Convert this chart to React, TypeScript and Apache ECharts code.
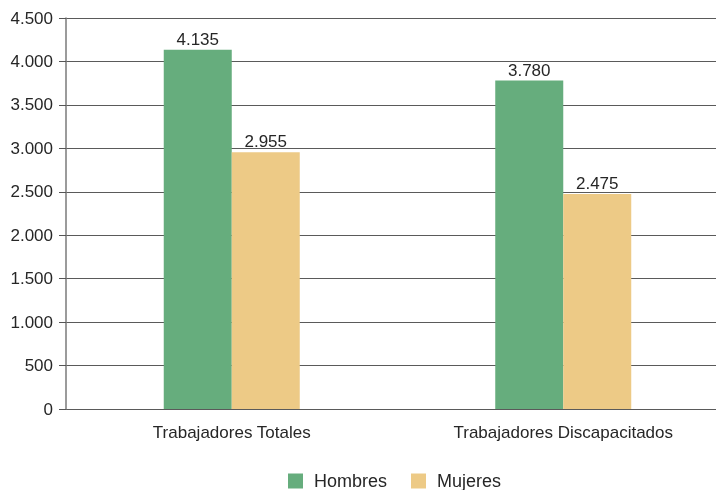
import React, { useEffect, useRef } from "react";
import * as echarts from "echarts";

const categories = ["Trabajadores Totales", "Trabajadores Discapacitados"];
const hombres = [4135, 3780];
const mujeres = [2955, 2475];
const seriesNames = ["Hombres", "Mujeres"];

const fmt = (v: number) => String(Math.round(v)).replace(/\B(?=(\d{3})+(?!\d))/g, ".");

const FONT = "'Liberation Sans', Arial, sans-serif";
const TEXT = "#262626";

export default function App() {
  const ref = useRef<HTMLDivElement>(null);
  useEffect(() => {
    if (!ref.current) return;
    const chart = echarts.init(ref.current, undefined, { renderer: "svg" });
    const label = {
      show: true,
      position: "top",
      distance: 2,
      color: TEXT,
      fontSize: 17,
      fontFamily: FONT,
      formatter: (p: any) => fmt(p.value),
    };
    chart.setOption({
      animation: false,
      textStyle: { fontFamily: FONT },
      // the plot runs a little past the visible frame on the right
      grid: { left: 66, right: 1, top: 18, bottom: 81, containLabel: false },
      legend: {
        data: seriesNames,
        bottom: 0,
        left: 288,
        padding: 0,
        itemWidth: 15,
        itemHeight: 15,
        itemGap: 24,
        icon: "rect",
        textStyle: { fontSize: 18, color: TEXT, fontFamily: FONT, padding: [0, 0, 0, 6] },
      },
      xAxis: {
        type: "category",
        data: categories,
        axisLine: { show: false },
        axisTick: { show: false },
        axisLabel: { fontSize: 17, color: TEXT, margin: 15, fontFamily: FONT },
      },
      yAxis: {
        type: "value",
        min: 0,
        max: 4500,
        interval: 500,
        axisLine: { show: true, lineStyle: { color: "#7a7a7a", width: 1.5 } },
        axisTick: { show: true, inside: false, length: 7, lineStyle: { color: "#555" } },
        axisLabel: {
          fontSize: 17,
          color: TEXT,
          margin: 13,
          fontFamily: FONT,
          formatter: (v: number) => fmt(v),
        },
        splitLine: { show: true, lineStyle: { color: "#5a5a5a", width: 1 } },
      },
      series: [
        {
          name: seriesNames[0],
          type: "bar",
          data: hombres,
          barWidth: 68,
          barGap: "0%",
          itemStyle: { color: "#66ad7d" },
          label,
        },
        {
          name: seriesNames[1],
          type: "bar",
          data: mujeres,
          barWidth: 68,
          barGap: "0%",
          itemStyle: { color: "#edca86" },
          label,
        },
      ],
    });
    return () => chart.dispose();
  }, []);
  return (
    <div
      style={{
        position: "fixed",
        left: 0,
        top: 0,
        width: 716,
        height: 490,
        overflow: "hidden",
      }}
    >
      <div ref={ref} style={{ width: 730, height: 490 }} />
    </div>
  );
}
